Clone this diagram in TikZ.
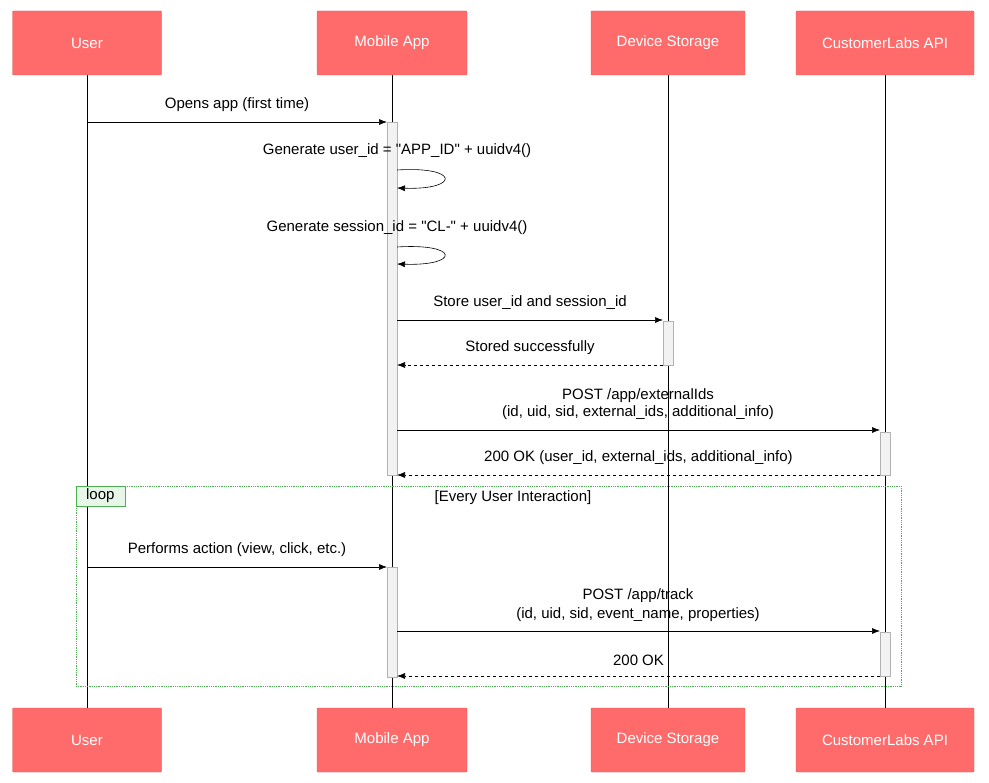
\documentclass[tikz,border=0pt]{standalone}
\usepackage{fontspec}
\setmainfont{Liberation Sans}[Ligatures=TeXOff]
\usetikzlibrary{arrows.meta}
\definecolor{actfill}{HTML}{FF6B6B}
\definecolor{actdraw}{HTML}{E05555}
\definecolor{loopgreen}{HTML}{4CAF50}
\definecolor{looptag}{HTML}{E8F5E9}
\tikzset{
  actor/.style={draw=actdraw, fill=actfill, text=white, minimum height=64pt, rounded corners=1pt, font=\fontsize{15}{17}\selectfont},
  bar/.style={draw=gray!60, fill=gray!10, minimum width=10pt, inner sep=0pt},
  msg/.style={-{Latex[length=8pt,width=6pt]}, semithick},
  reply/.style={msg, dashed},
  lbl/.style={font=\fontsize{15}{17}\selectfont, inner sep=0pt}
}
\begin{document}
\begin{tikzpicture}[x=1pt,y=-1pt]
    \useasboundingbox (0,0) rectangle (989,783);
    % lifelines
    \foreach \n/\x in {user/87, app/392, store/668, api/885}{
      \coordinate (\n t) at (\x,75);
      \coordinate (\n b) at (\x,708);
      \draw[semithick] (\n t) -- (\n b);
    }
    % actors
    \node[actor, minimum width=149pt] (user1) at (87,43) {User};
    \node[actor, minimum width=150pt] (app1) at (392,43) {Mobile App};
    \node[actor, minimum width=154pt] (store1) at (668,43) {Device Storage};
    \node[actor, minimum width=178pt] (api1) at (885,43) {CustomerLabs API};
    \node[actor, minimum width=149pt] (user2) at (87,740) {User};
    \node[actor, minimum width=150pt] (app2) at (392,740) {Mobile App};
    \node[actor, minimum width=154pt] (store2) at (668,740) {Device Storage};
    \node[actor, minimum width=178pt] (api2) at (885,740) {CustomerLabs API};
    % activations
    \node[bar, minimum height=353pt] (appA) at (392,298.5) {};
    \node[bar, minimum height=44pt] (storeA) at (668,343) {};
    \node[bar, minimum height=43pt] (apiA) at (885,453.5) {};
    \node[bar, minimum height=110pt] (appB) at (392,622) {};
    \node[bar, minimum height=44pt] (apiB) at (885,654) {};
    % loop frame
    \node[draw=loopgreen, densely dotted, thick, minimum width=825pt, minimum height=200pt, inner sep=0pt] (loop) at (488.5,586) {};
    \node[draw=loopgreen, fill=looptag, anchor=north west, minimum width=49pt, minimum height=20pt, inner sep=0pt, lbl] (looptag) at (loop.north west) {loop};
    \node[lbl] (looplbl) at (513,498) {[Every User Interaction]};
    % messages
    \coordinate (m1a) at (87,122); \coordinate (m1b) at (387,122);
    \draw[msg] (m1a) -- node[lbl, above=10pt] {Opens app (first time)} (m1b);
    \node[lbl] (g1) at (397,151) {Generate user\_id = "APP\_ID" + uuidv4()};
    \coordinate (s1a) at (397,170); \coordinate (s1b) at (397,188);
    \draw[msg] (s1a) .. controls (460,166) and (460,190) .. (s1b);
    \node[lbl] (g2) at (397,228) {Generate session\_id = "CL-" + uuidv4()};
    \coordinate (s2a) at (397,247); \coordinate (s2b) at (397,264);
    \draw[msg] (s2a) .. controls (460,243) and (460,266) .. (s2b);
    \coordinate (m2a) at (397,320); \coordinate (m2b) at (663,320);
    \draw[msg] (m2a) -- node[lbl, above=10pt] {Store user\_id and session\_id} (m2b);
    \coordinate (m3a) at (663,365); \coordinate (m3b) at (397,365);
    \draw[reply] (m3a) -- node[lbl, above=10pt] {Stored successfully} (m3b);
    \coordinate (m4a) at (397,430); \coordinate (m4b) at (880,430);
    \draw[msg] (m4a) -- (m4b);
    \node[lbl] (p1) at (638,396) {POST /app/externalIds};
    \node[lbl] (p2) at (638,413) {(id, uid, sid, external\_ids, additional\_info)};
    \coordinate (m5a) at (880,475); \coordinate (m5b) at (397,475);
    \draw[reply] (m5a) -- node[lbl, above=10pt] {200 OK (user\_id, external\_ids, additional\_info)} (m5b);
    \coordinate (m6a) at (87,567); \coordinate (m6b) at (387,567);
    \draw[msg] (m6a) -- node[lbl, above=10pt] {Performs action (view, click, etc.)} (m6b);
    \coordinate (m7a) at (397,631); \coordinate (m7b) at (880,631);
    \draw[msg] (m7a) -- (m7b);
    \node[lbl] (t1) at (638,596) {POST /app/track};
    \node[lbl] (t2) at (638,615) {(id, uid, sid, event\_name, properties)};
    \coordinate (m8a) at (880,676); \coordinate (m8b) at (397,676);
    \draw[reply] (m8a) -- node[lbl, above=10pt] {200 OK} (m8b);
\end{tikzpicture}
\end{document}
